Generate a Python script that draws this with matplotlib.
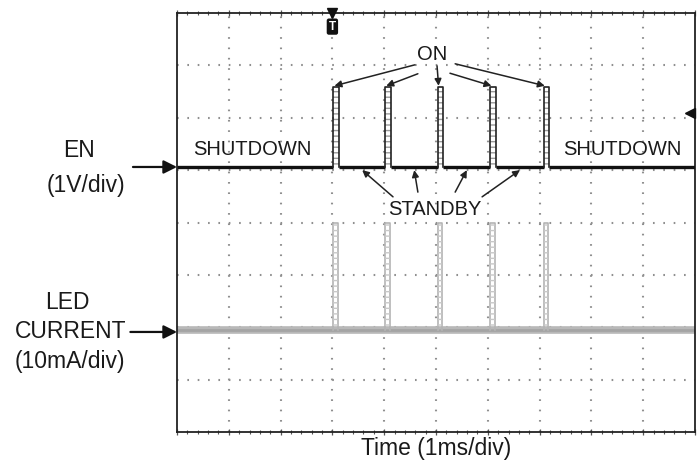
import matplotlib.pyplot as plt
import numpy as np

plt.rcParams['font.family'] = ['Liberation Sans', 'DejaVu Sans']
plt.rcParams['lines.scale_dashes'] = False

# scope traces, in divisions (10 x 8 graticule, y centre = 0)
pulse_times = [3.02, 4.02, 5.03, 6.05, 7.08]
pulse_width = 0.11
en_low, en_high = 1.06, 2.59
led_low, led_high = -2.05, 0.0
trigger_time = 3.0
trigger_level = 2.09

x_divs = np.arange(0, 11)
y_divs = np.arange(-4, 5)

# arrow tails for the annotations (data units)
on_tails = [(4.59, 3.01), (4.65, 2.84), (5.02, 2.99), (5.27, 2.85), (5.37, 3.03)]
standby_tails = [(4.17, 0.49), (4.65, 0.58), (5.37, 0.58), (5.89, 0.49)]

txt = '#1a1a1a'

fig = plt.figure(figsize=(6.99, 4.66), dpi=100)
ax = fig.add_axes([177 / 699, 1 - 432 / 466, 518 / 699, 419 / 466])
ax.set_xlim(x_divs[0], x_divs[-1])
ax.set_ylim(y_divs[0], y_divs[-1])

# dotted graticule
for x in x_divs[1:-1]:
    ax.axvline(x, color='#8f8f8f', lw=1.5, linestyle=(0, (1.2, 6.25)), zorder=1)
for y in y_divs[1:-1]:
    ax.axhline(y, color='#8f8f8f', lw=1.5, linestyle=(0, (1.2, 6.25)), zorder=1)

for s in ax.spines.values():
    s.set_linewidth(1.3)
    s.set_color('#222222')
ax.set_xticks(x_divs)
ax.set_xticks(np.arange(0, 10.01, 0.2), minor=True)
ax.set_yticks([])
ax.tick_params(axis='x', which='both', top=True, bottom=True, direction='inout',
               labelbottom=False, color='#555555')
ax.tick_params(axis='x', which='major', length=5, width=0.9)
ax.tick_params(axis='x', which='minor', length=3, width=0.8)

# EN trace: baseline segments between pulses
edges = [0] + [p for t in pulse_times for p in (t, t + pulse_width)] + [10]
for a, b in zip(edges[0::2], edges[1::2]):
    ax.plot([a, b], [en_low, en_low], color='#111111', lw=2.4, solid_capstyle='butt', zorder=4)
for t in pulse_times:
    ax.plot([t, t, t + pulse_width, t + pulse_width], [en_low, en_high, en_high, en_low],
            color='#222222', lw=1.2, zorder=4)
    ax.fill_between([t, t + pulse_width], en_low, en_high, facecolor='none',
                    edgecolor='#9a9a9a', hatch='---', lw=0, zorder=3)

# LED current trace
ax.plot([0, 10], [led_low, led_low], color='#b8b8b8', lw=5.5, solid_capstyle='butt', zorder=2)
ax.plot([0, 10], [led_low, led_low], color='#a4a4a4', lw=2.0, solid_capstyle='butt', zorder=2)
for t in pulse_times:
    ax.plot([t, t, t + pulse_width * 0.8, t + pulse_width * 0.8],
            [led_low, led_high, led_high, led_low], color='#b4b4b4', lw=1.2, zorder=2)
    ax.fill_between([t, t + pulse_width * 0.8], led_low, led_high, facecolor='none',
                    edgecolor='#c8c8c8', hatch='---', lw=0, zorder=2)

# trigger markers
ax.plot(trigger_time, 4, marker='v', color='#111111', ms=7, clip_on=False, zorder=6)
ax.text(trigger_time, 3.74, 'T', color='white', fontsize=8.5, fontweight='bold',
        ha='center', va='center', zorder=6,
        bbox=dict(boxstyle='round,pad=0.18', fc='#111111', ec='none'))
ax.plot(9.9, trigger_level, marker='<', color='#111111', ms=7, clip_on=False, zorder=6)

# annotations inside the screen
fs_in = 14.5
ax.text(4.92, 3.20, 'ON', fontsize=fs_in, color=txt, ha='center', va='center', zorder=7)
for (tx, ty), t in zip(on_tails, pulse_times):
    ax.annotate('', xy=(t + 0.02, en_high + 0.02), xytext=(tx, ty),
                arrowprops=dict(arrowstyle='-|>', color='#222222', lw=1.1,
                                mutation_scale=10, shrinkA=0, shrinkB=0), zorder=7)

ax.text(4.98, 0.24, 'STANDBY', fontsize=fs_in, color=txt, ha='center', va='center', zorder=7)
mids = [(a + pulse_width + b) / 2 for a, b in zip(pulse_times[:-1], pulse_times[1:])]
for (tx, ty), m in zip(standby_tails, mids):
    ax.annotate('', xy=(m, en_low - 0.06), xytext=(tx, ty),
                arrowprops=dict(arrowstyle='-|>', color='#222222', lw=1.1,
                                mutation_scale=10, shrinkA=0, shrinkB=0), zorder=7)

ax.text(1.45, 1.39, 'SHUTDOWN', fontsize=fs_in, color=txt, ha='center', va='center')
ax.text(8.59, 1.39, 'SHUTDOWN', fontsize=fs_in, color=txt, ha='center', va='center')

# labels outside the screen
fs_out = 16.5
ax.text(-1.89, 1.37, 'EN', fontsize=fs_out, color=txt, ha='center', va='center', clip_on=False)
ax.text(-1.76, 0.70, '(1V/div)', fontsize=fs_out, color=txt, ha='center', va='center', clip_on=False)
ax.annotate('', xy=(0, en_low), xytext=(-0.85, en_low), annotation_clip=False,
            arrowprops=dict(arrowstyle='-|>', color='#111111', lw=1.6,
                            mutation_scale=20, shrinkA=0, shrinkB=0))

ax.text(-2.12, -1.53, 'LED', fontsize=fs_out, color=txt, ha='center', va='center', clip_on=False)
ax.text(-2.05, -2.09, 'CURRENT', fontsize=fs_out, color=txt, ha='center', va='center', clip_on=False)
ax.text(-2.07, -2.66, '(10mA/div)', fontsize=fs_out, color=txt, ha='center', va='center', clip_on=False)
ax.annotate('', xy=(0, led_low - 0.04), xytext=(-0.9, led_low - 0.04), annotation_clip=False,
            arrowprops=dict(arrowstyle='-|>', color='#111111', lw=1.6,
                            mutation_scale=20, shrinkA=0, shrinkB=0))

fig.text(436 / 699, 1 - 449 / 466, 'Time (1ms/div)', fontsize=fs_out, color=txt,
         ha='center', va='center')

fig.savefig('out.png', dpi=100)
